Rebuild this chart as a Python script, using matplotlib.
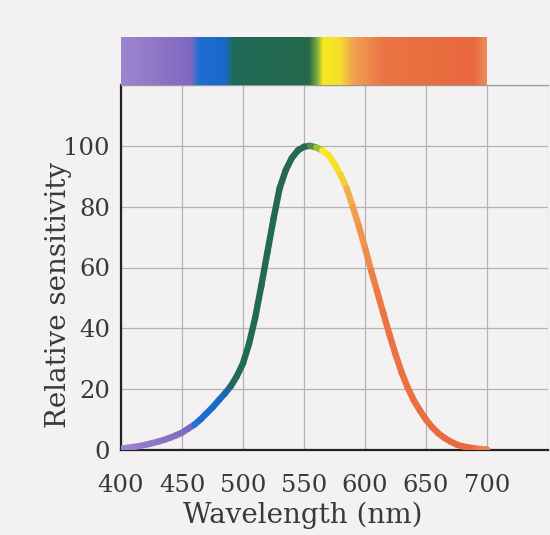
import numpy as np
import matplotlib
matplotlib.use("Agg")
import matplotlib.pyplot as plt
from matplotlib.collections import LineCollection
from matplotlib.colors import LinearSegmentedColormap

# ---- data ----
wavelength = [400, 405, 410, 415, 420, 425, 430, 435, 440, 445, 450, 455, 460, 465,
              470, 475, 480, 485, 490, 495, 500, 505, 510, 515, 520, 525, 530, 535,
              540, 545, 550, 555, 560, 565, 570, 575, 580, 585, 590, 595, 600, 605,
              610, 615, 620, 625, 630, 635, 640, 645, 650, 655, 660, 665, 670, 675,
              680, 685, 690, 695, 700]
sensitivity = [0.4, 0.7, 1.0, 1.3, 1.7, 2.2, 2.7, 3.3, 4.0, 4.8, 5.7, 7.0, 8.3, 10.0,
               12.0, 14.0, 16.3, 18.5, 21.0, 24.3, 28.5, 35.0, 43.5, 54.0, 65.0, 76.0, 86.0, 92.0,
               96.0, 98.5, 99.7, 100.0, 99.5, 98.5, 97.0, 94.0, 90.5, 86.0, 80.0, 73.5, 66.5, 59.0,
               52.0, 45.0, 38.0, 31.5, 25.5, 20.5, 16.3, 13.0, 10.0, 7.5, 5.5, 4.0, 2.8, 1.8,
               1.2, 0.8, 0.5, 0.3, 0.2]
x_ticks = [400, 450, 500, 550, 600, 650, 700]
y_ticks = [0, 20, 40, 60, 80, 100]

# spectrum colour stops (wavelength, colour)
spec_stops = [(400, "#9c86cf"), (457, "#8068c0"), (463, "#1f6fd3"), (485, "#1868c6"),
              (492, "#1f6a58"), (554, "#26694c"), (561, "#7fae3c"), (566, "#f7ea22"),
              (580, "#f6dc2c"), (590, "#f0a452"), (615, "#eb7444"), (690, "#e8683c"),
              (700, "#ee8a5a")]

lo, hi = spec_stops[0][0], spec_stops[-1][0]
cmap = LinearSegmentedColormap.from_list(
    "spec", [((w - lo) / (hi - lo), c) for w, c in spec_stops])

bg = "#f3f1f1"
txt = "#3a3838"
fig = plt.figure(figsize=(5.5, 5.35), dpi=100, facecolor=bg)
ax = fig.add_axes([121/550, 85/535, (548-121)/550, (450-85)/535])
ax.set_facecolor(bg)

ax.set_xlim(400, 750)
ax.set_ylim(0, 120)

# grid
ax.set_xticks(x_ticks + [750])
ax.set_xticklabels([str(t) for t in x_ticks] + [""])
ax.set_yticks(y_ticks + [120])
ax.set_yticklabels([str(t) for t in y_ticks] + [""])
ax.grid(True, color="#b4b2b2", lw=0.9)
ax.set_axisbelow(True)

for s in ["left", "bottom"]:
    ax.spines[s].set_color("#222222")
    ax.spines[s].set_linewidth(1.6)
ax.spines["top"].set_color("#9a9898")
ax.spines["top"].set_linewidth(0.9)
ax.spines["right"].set_visible(False)

tick_size = 17.5
ax.tick_params(axis="x", length=0, pad=17, labelsize=tick_size, labelcolor=txt)
ax.tick_params(axis="y", length=0, pad=8, labelsize=tick_size, labelcolor=txt)
for lab in ax.get_xticklabels() + ax.get_yticklabels():
    lab.set_family("DejaVu Serif")

font = dict(family="DejaVu Serif", size=20, color=txt)
ax.set_xlabel("Wavelength (nm)", **font)
ax.xaxis.set_label_coords((303-121)/(548-121), -(502-450)/(450-85))
ax.set_ylabel("Relative sensitivity", **font)
ax.yaxis.set_label_coords(-(121-72)/(548-121), (450-295)/(450-85))

# spectrum bar above the plot
grad = np.linspace(0, 1, 600).reshape(1, -1)
ax.imshow(grad, cmap=cmap, aspect="auto", extent=[400, 700, 120, 135.5],
          clip_on=False, zorder=3, interpolation="bilinear")

# coloured curve
wl = np.array(wavelength, dtype=float)
sv = np.array(sensitivity, dtype=float)
pts = np.column_stack([wl, sv]).reshape(-1, 1, 2)
segs = np.concatenate([pts[:-1], pts[1:]], axis=1)
mids = (wl[:-1] + wl[1:]) / 2
lc = LineCollection(segs, colors=cmap((mids - lo) / (hi - lo)), linewidths=4.6,
                    capstyle="round", joinstyle="round", zorder=4)
ax.add_collection(lc)

fig.savefig("out.png", dpi=100, facecolor=bg)
